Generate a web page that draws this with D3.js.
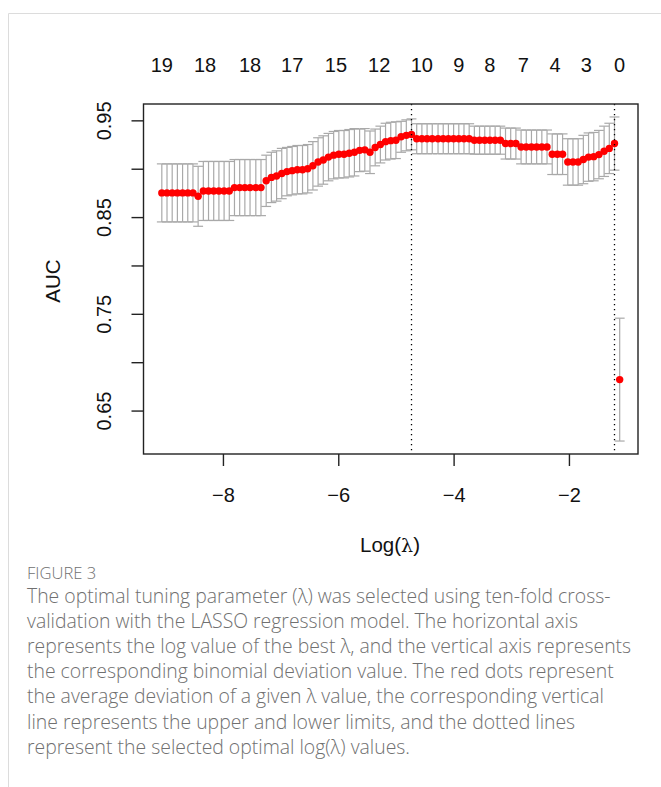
<!DOCTYPE html>
<html>
<head>
<meta charset="utf-8">
<script src="https://cdn.jsdelivr.net/npm/d3@7/dist/d3.min.js"></script>
<style>
  html, body { margin: 0; padding: 0; background: #ffffff; }
  svg { display: block; }
</style>
</head>
<body>
<svg id="fig" width="661" height="787"></svg>
<script>
// Cross-validated AUC along the LASSO path (log lambda, mean AUC, CV standard error)
const logLambda = [
  -9.06, -8.97, -8.88, -8.79, -8.70, -8.61, -8.52, -8.43, -8.34, -8.25,
  -8.16, -8.07, -7.98, -7.89, -7.80, -7.71, -7.62, -7.53, -7.43, -7.34,
  -7.25, -7.16, -7.07, -6.98, -6.89, -6.80, -6.71, -6.62, -6.53, -6.44,
  -6.35, -6.26, -6.17, -6.08, -5.99, -5.90, -5.81, -5.72, -5.63, -5.54,
  -5.45, -5.36, -5.27, -5.18, -5.09, -5.00, -4.91, -4.82, -4.73, -4.64,
  -4.55, -4.46, -4.37, -4.27, -4.18, -4.09, -4.00, -3.91, -3.82, -3.73,
  -3.64, -3.55, -3.46, -3.37, -3.28, -3.19, -3.10, -3.01, -2.92, -2.83,
  -2.74, -2.65, -2.56, -2.47, -2.38, -2.29, -2.20, -2.11, -2.02, -1.93,
  -1.84, -1.75, -1.66, -1.57, -1.48, -1.39, -1.30, -1.21, -1.12
];
const cvm = [
  0.875, 0.875, 0.875, 0.875, 0.875, 0.875, 0.875, 0.8715, 0.877, 0.877,
  0.877, 0.877, 0.877, 0.877, 0.8805, 0.8805, 0.8805, 0.8805, 0.8805, 0.8805,
  0.8875, 0.891, 0.8925, 0.895, 0.897, 0.898, 0.899, 0.899, 0.900, 0.903,
  0.907, 0.909, 0.912, 0.914, 0.915, 0.915, 0.916, 0.917, 0.919, 0.9195,
  0.917, 0.922, 0.925, 0.928, 0.929, 0.9295, 0.933, 0.9345, 0.9355, 0.931,
  0.931, 0.931, 0.931, 0.931, 0.931, 0.931, 0.931, 0.931, 0.931, 0.931,
  0.9295, 0.9295, 0.9295, 0.9295, 0.9295, 0.9295, 0.926, 0.926, 0.926, 0.9225,
  0.9225, 0.9225, 0.9225, 0.9225, 0.9225, 0.915, 0.915, 0.915, 0.907, 0.907,
  0.907, 0.9095, 0.912, 0.9125, 0.9146, 0.918, 0.921, 0.926, 0.682
];
const cvsd = [
  0.030, 0.030, 0.030, 0.030, 0.030, 0.030, 0.030, 0.031, 0.0305, 0.0305,
  0.0305, 0.0305, 0.0305, 0.0305, 0.029, 0.029, 0.029, 0.029, 0.029, 0.029,
  0.0265, 0.026, 0.026, 0.026, 0.025, 0.025, 0.025, 0.025, 0.025, 0.025,
  0.025, 0.025, 0.0245, 0.0245, 0.0245, 0.0245, 0.0245, 0.0245, 0.022, 0.022,
  0.022, 0.019, 0.019, 0.019, 0.019, 0.019, 0.016, 0.016, 0.016, 0.0155,
  0.0155, 0.0155, 0.0155, 0.0155, 0.0155, 0.0155, 0.0155, 0.0155, 0.0155, 0.0155,
  0.0145, 0.0145, 0.0145, 0.0145, 0.0145, 0.0145, 0.016, 0.016, 0.016, 0.0175,
  0.0175, 0.0175, 0.0175, 0.0175, 0.0175, 0.021, 0.021, 0.021, 0.024, 0.024,
  0.024, 0.025, 0.025, 0.025, 0.025, 0.026, 0.026, 0.0275, 0.0635
];

// Selected penalties: lambda.min and lambda.1se
const selectedLogLambda = [-4.73, -1.21];

// Number of non-zero coefficients shown along the top
const topTickLogLambda = [-9.06, -8.31, -7.53, -6.80, -6.04, -5.29, -4.55, -3.91, -3.37, -2.79, -2.24, -1.70, -1.12];
const topTickLabels = ["19", "18", "18", "17", "15", "12", "10", "9", "8", "7", "4", "3", "0"];

const xTicks = [-8, -6, -4, -2];
const yTicks = [0.65, 0.70, 0.75, 0.80, 0.85, 0.90, 0.95];
const yTickLabels = ["0.65", "", "0.75", "", "0.85", "", "0.95"];

const xTitle = "Log(";
const xTitleSymbol = "\u03BB";
const yTitle = "AUC";

const captionHead = "FIGURE 3";
const captionLines = [
  "The optimal tuning parameter (\u03BB) was selected using ten-fold cross-",
  "validation with the LASSO regression model. The horizontal axis",
  "represents the log value of the best \u03BB, and the vertical axis represents",
  "the corresponding binomial deviation value. The red dots represent",
  "the average deviation of a given \u03BB value, the corresponding vertical",
  "line represents the upper and lower limits, and the dotted lines",
  "represent the selected optimal log(\u03BB) values."
];

const svg = d3.select("#fig");
const FONT = "'Liberation Sans', Arial, Helvetica, sans-serif";

// Page frame
svg.append("path")
  .attr("d", "M8.5,787 L8.5,13.5 L661,13.5")
  .attr("fill", "none").attr("stroke", "#dcdcdc").attr("stroke-width", 1);

// Plot region
const box = { left: 143.5, right: 638, top: 104, bottom: 454 };
const up = cvm.map((m, i) => m + cvsd[i]);
const lo = cvm.map((m, i) => m - cvsd[i]);
const xr = d3.extent(logLambda);
const yr = [d3.min(lo), d3.max(up)];
const xpad = (xr[1] - xr[0]) * 0.04, ypad = (yr[1] - yr[0]) * 0.04;

const x = d3.scaleLinear().domain([xr[0] - xpad, xr[1] + xpad]).range([box.left, box.right]);
const y = d3.scaleLinear().domain([yr[0] - ypad, yr[1] + ypad]).range([box.bottom, box.top]);

const pts = logLambda.map((l, i) => ({ l, m: cvm[i], u: up[i], d: lo[i] }));
const barw = (x.domain()[1] - x.domain()[0]) * 0.01;

// Error bars
const eb = svg.append("g").attr("stroke", "#a9a9a9").attr("stroke-width", 1.2).attr("fill", "none");
eb.selectAll("line.v").data(pts).join("line").attr("class", "v")
  .attr("x1", d => x(d.l)).attr("x2", d => x(d.l))
  .attr("y1", d => y(d.u)).attr("y2", d => y(d.d));
eb.selectAll("line.cu").data(pts).join("line").attr("class", "cu")
  .attr("x1", d => x(d.l - barw)).attr("x2", d => x(d.l + barw))
  .attr("y1", d => y(d.u)).attr("y2", d => y(d.u));
eb.selectAll("line.cl").data(pts).join("line").attr("class", "cl")
  .attr("x1", d => x(d.l - barw)).attr("x2", d => x(d.l + barw))
  .attr("y1", d => y(d.d)).attr("y2", d => y(d.d));

// Mean AUC points
svg.append("g").selectAll("circle").data(pts).join("circle")
  .attr("cx", d => x(d.l)).attr("cy", d => y(d.m)).attr("r", 3.7)
  .attr("fill", "#ff0000");

// Dotted reference lines at the selected lambdas
svg.append("g").selectAll("line").data(selectedLogLambda).join("line")
  .attr("x1", d => x(d)).attr("x2", d => x(d))
  .attr("y1", box.top).attr("y2", box.bottom)
  .attr("stroke", "#000").attr("stroke-width", 1.3)
  .attr("stroke-dasharray", "1.3,3.7");

// Box
svg.append("rect")
  .attr("x", box.left).attr("y", box.top)
  .attr("width", box.right - box.left).attr("height", box.bottom - box.top)
  .attr("fill", "none").attr("stroke", "#222").attr("stroke-width", 1.4);

// Bottom axis
const gx = svg.append("g").attr("transform", `translate(0,${box.bottom})`)
  .call(d3.axisBottom(x).tickValues(xTicks).tickSize(12).tickPadding(22)
    .tickFormat(d => (d < 0 ? "\u2212" : "") + Math.abs(d)));
gx.select(".domain").remove();
gx.selectAll(".tick line").attr("stroke", "#222").attr("stroke-width", 1.4);
gx.selectAll(".tick text").attr("font-family", FONT).attr("font-size", 20).attr("fill", "#111");

// Left axis with rotated labels
const gy = svg.append("g").attr("transform", `translate(${box.left},0)`)
  .call(d3.axisLeft(y).tickValues(yTicks).tickSize(12).tickFormat((d, i) => yTickLabels[i]));
gy.select(".domain").remove();
gy.selectAll(".tick line").attr("stroke", "#222").attr("stroke-width", 1.4);
gy.selectAll(".tick text")
  .attr("font-family", FONT).attr("font-size", 20).attr("fill", "#111")
  .attr("text-anchor", "middle").attr("dy", null).attr("x", null)
  .attr("transform", "translate(-33,0) rotate(-90)");

// Top labels: non-zero coefficient counts
svg.append("g").selectAll("text").data(topTickLabels).join("text")
  .attr("x", (d, i) => x(topTickLogLambda[i])).attr("y", 72)
  .attr("text-anchor", "middle")
  .attr("font-family", FONT).attr("font-size", 20).attr("fill", "#111")
  .text(d => d);

// Axis titles
const xt = svg.append("text").attr("x", 390).attr("y", 552)
  .attr("text-anchor", "middle").attr("font-family", FONT).attr("font-size", 20.5).attr("fill", "#111");
xt.append("tspan").text(xTitle);
xt.append("tspan").attr("font-family", "'DejaVu Serif', 'Liberation Serif', serif").attr("font-size", 19).text(xTitleSymbol);
xt.append("tspan").text(")");

svg.append("text").attr("transform", "translate(60,281) rotate(-90)")
  .attr("text-anchor", "middle").attr("font-family", FONT).attr("font-size", 20.5).attr("fill", "#111")
  .text(yTitle);

// Caption
const CAP = "'Open Sans', 'Noto Sans', sans-serif";
svg.append("text").attr("x", 27).attr("y", 579)
  .attr("font-family", CAP).attr("font-size", 16.6).attr("font-weight", 300).attr("fill", "#707070")
  .text(captionHead);
svg.append("g").selectAll("text").data(captionLines).join("text")
  .attr("x", 27).attr("y", (d, i) => 603 + i * 25.1)
  .attr("font-family", CAP).attr("font-size", 19.4).attr("font-weight", 300).attr("fill", "#707070")
  .text(d => d);
</script>
</body>
</html>
